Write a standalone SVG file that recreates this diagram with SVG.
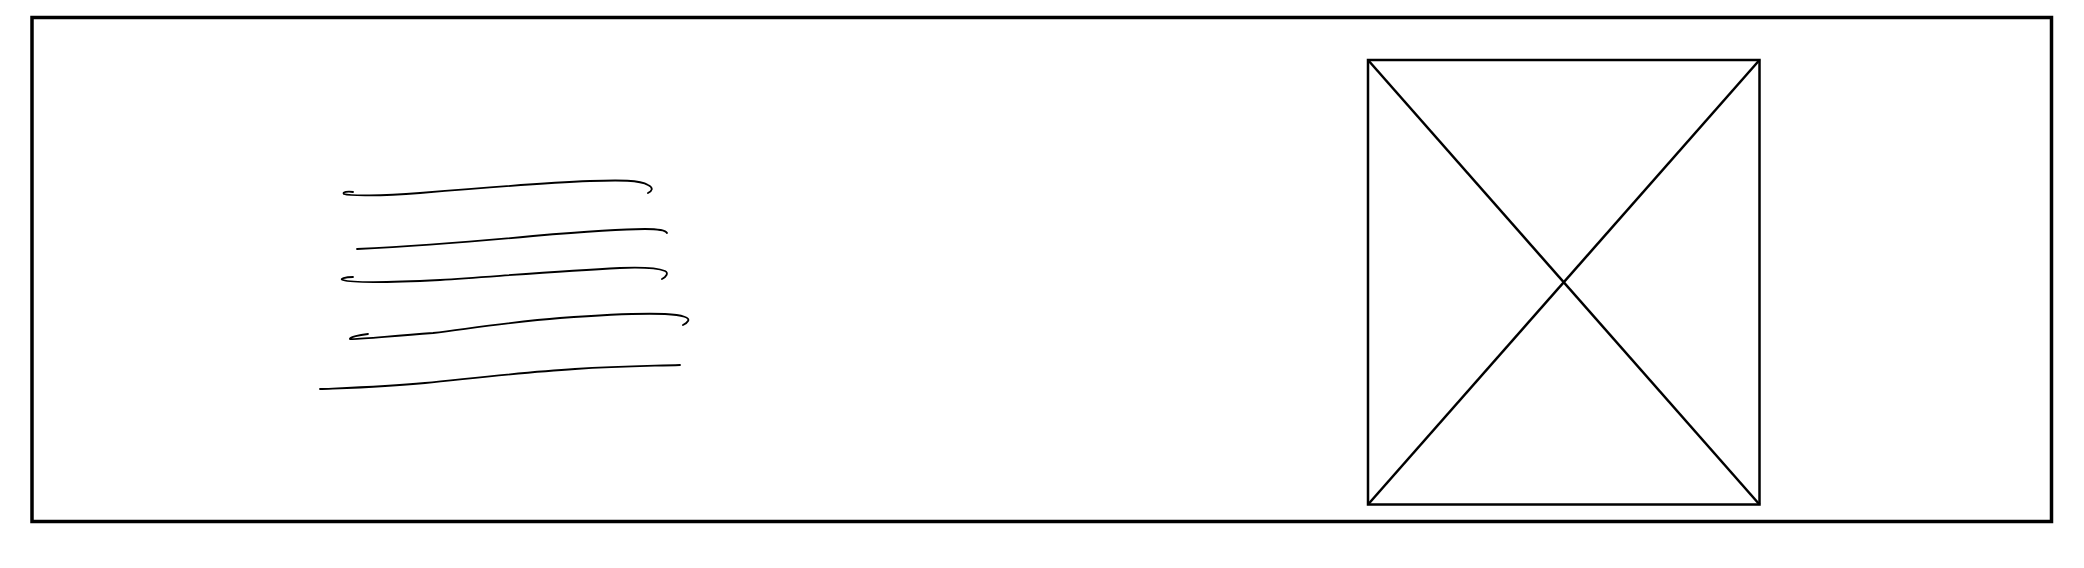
<svg xmlns="http://www.w3.org/2000/svg" width="2084" height="568" viewBox="0 0 2084 568">
<style>
.frame{fill:none;stroke:#000;stroke-width:3.5}
.box{fill:none;stroke:#000;stroke-width:2.5}
.scr{fill:none;stroke:#000;stroke-width:1.8;stroke-linecap:round;stroke-linejoin:round}
</style>
<rect width="2084" height="568" fill="#fff"/>
<g id="frame"><rect class="frame" x="32" y="17.5" width="2019.5" height="504"/></g>
<g id="text-lines">
<path class="scr" d="M353,192 C348,191 342,192 344,194 C350,196 380,196 420,193 C480,188 540,183 590,181 C620,180 640,180 648,185 C654,188 652,191 648,193"/>
<path class="scr" d="M357,249 C400,247 460,243 533,236 C580,232 620,229 645,229 C660,229 666,231 667,233"/>
<path class="scr" d="M353,277 C345,277 339,279 343,280 C352,283 400,282 440,280 C500,276 560,271 620,268 C645,267 660,269 665,271 C669,273 666,277 662,279"/>
<path class="scr" d="M368,334 C360,335 349,337 350,339 C356,340 380,337 433,333 C480,327 520,321 560,318 C600,315 640,313 665,314 C684,315 690,318 688,321 C687,323 685,324 683,325"/>
<path class="scr" d="M320,389 C345,388 385,387 425,383 C475,378 525,372 575,369 C620,366 650,366 680,365"/>
</g>
<g id="image-placeholder">
<rect class="box" x="1368" y="60" width="391.5" height="444.5"/>
<line class="box" x1="1368" y1="60" x2="1759.5" y2="504.5"/>
<line class="box" x1="1759.5" y1="60" x2="1368" y2="504.5"/>
</g>
</svg>
